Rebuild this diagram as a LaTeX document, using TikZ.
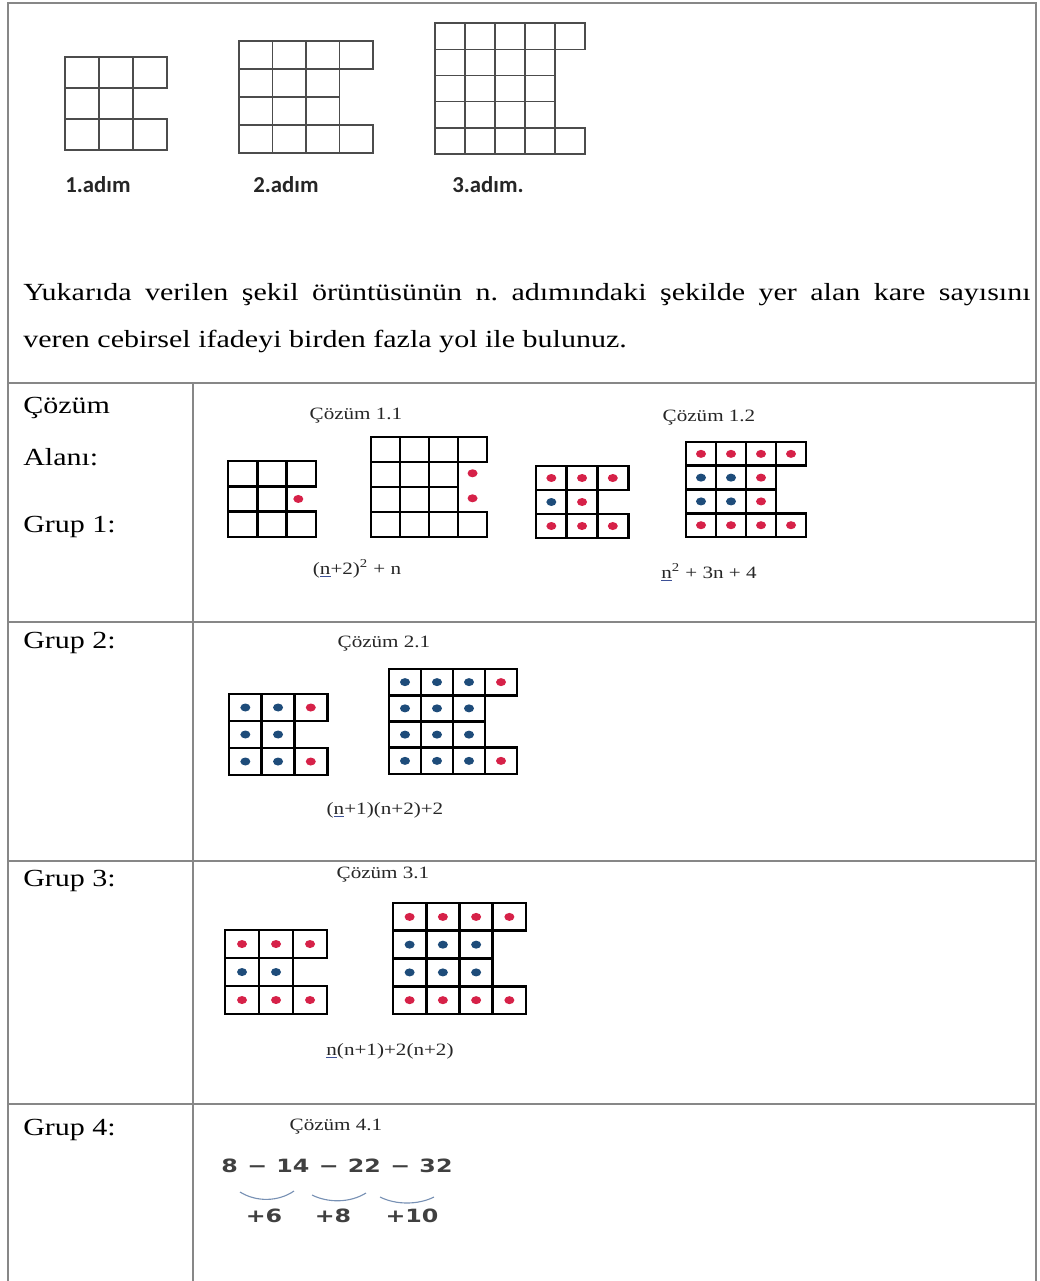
\documentclass[tikz,border=0pt]{standalone}
\usepackage{fontspec}
\setmainfont[FakeStretch=1.22]{Liberation Serif}
\newfontfamily\stepfont{Carlito}
\newfontfamily\numfont[FakeStretch=1.3]{DejaVu Sans}
\definecolor{dotred}{RGB}{214,33,72}
\definecolor{dotblue}{RGB}{30,76,122}
\definecolor{tablegray}{RGB}{135,135,135}
\definecolor{archue}{RGB}{120,145,180}
\definecolor{ulblue}{RGB}{60,80,150}
\newcommand{\ulinen}{\textcolor{ulblue}{\underline{\textcolor{black!85}{n}}}}
\frenchspacing
\begin{document}
\begin{tikzpicture}[x=0.025cm, y=-0.025cm,
    tableline/.style={draw=tablegray, line width=1.4pt},
    stepcell/.style={draw=black!70, line width=1pt},
    solcell/.style={draw=black, line width=2pt},
    reddot/.style={fill=dotred},
    bluedot/.style={fill=dotblue},
    arcline/.style={draw=archue, line width=0.8pt},
    steplabel/.style={anchor=base west, inner sep=0pt, text=black!85, font=\stepfont\bfseries\fontsize{16.2pt}{19pt}\selectfont},
    bodytext/.style={anchor=base west, inner sep=0pt, text=black, font=\fontsize{17.5pt}{20pt}\selectfont},
    smalltext/.style={anchor=base, inner sep=0pt, text=black!85, font=\fontsize{12.3pt}{14pt}\selectfont},
    numtext/.style={anchor=base, inner sep=0pt, text=black!75, font=\numfont\bfseries\fontsize{13pt}{15pt}\selectfont}]
    \useasboundingbox (0,0) rectangle (1039,1281);
    % table
    \draw[tableline] (8,1281) -- (8,3) -- (1036,3) -- (1036,1281);
    \draw[tableline] (8,383) -- (1036,383);
    \draw[tableline] (8,622) -- (1036,622);
    \draw[tableline] (8,861) -- (1036,861);
    \draw[tableline] (8,1104) -- (1036,1104);
    \draw[tableline] (193,383) -- (193,1281);

    % pattern steps
    \begin{scope}[shift={(65,57)}, x=0.85cm, y=-0.775cm]
        \foreach \r/\k in {0/3,1/2,2/3}
            \foreach \c in {1,...,\k}
                \draw[stepcell] (\c-1,\r) rectangle ++(1,1);
    \end{scope}
    \begin{scope}[shift={(239,41)}, x=0.8375cm, y=-0.7cm]
        \foreach \r/\k in {0/4,1/3,2/3,3/4}
            \foreach \c in {1,...,\k}
                \draw[stepcell] (\c-1,\r) rectangle ++(1,1);
    \end{scope}
    \begin{scope}[shift={(435,23)}, x=0.75cm, y=-0.655cm]
        \foreach \r/\k in {0/5,1/4,2/4,3/4,4/5}
            \foreach \c in {1,...,\k}
                \draw[stepcell] (\c-1,\r) rectangle ++(1,1);
    \end{scope}
    \node[steplabel] (adim1) at (65,193) {1.adım};
    \node[steplabel] (adim2) at (253,193) {2.adım};
    \node[steplabel] (adim3) at (452,193) {3.adım.};

    \node[bodytext] (qline1) at (23,300) {\makebox[25.175cm][s]{Yukarıda verilen şekil örüntüsünün n. adımındaki şekilde yer alan kare sayısını}};
    \node[bodytext] (qline2) at (23,347) {veren cebirsel ifadeyi birden fazla yol ile bulunuz.};

    % left column
    \node[bodytext] (cozum) at (23,413) {Çözüm};
    \node[bodytext] (alani) at (23,465) {Alanı:};
    \node[bodytext] (grup1) at (23,532) {Grup 1:};
    \node[bodytext] (grup2) at (23,648) {Grup 2:};
    \node[bodytext] (grup3) at (23,886) {Grup 3:};
    \node[bodytext] (grup4) at (23,1135) {Grup 4:};

    % grup 1
    \node[smalltext] (coz11) at (356,419) {Çözüm 1.1};
    \node[smalltext] (coz12) at (709,421) {Çözüm 1.2};
    \begin{scope}[shift={(228,461)}, x=0.7325cm, y=-0.6325cm]
        \foreach \r/\k in {0/3,1/2,2/3}
            \foreach \c in {1,...,\k}
                \draw[solcell] (\c-1,\r) rectangle ++(1,1);
        \fill[reddot] (2.4,1.5) ellipse (0.125cm and 0.1cm);
    \end{scope}
    \begin{scope}[shift={(371,437)}, x=0.725cm, y=-0.625cm]
        \foreach \r/\k in {0/4,1/3,2/3,3/4}
            \foreach \c in {1,...,\k}
                \draw[solcell] (\c-1,\r) rectangle ++(1,1);
        \foreach \r in {1,2}
            \fill[reddot] (3.5,\r+.45) ellipse (0.125cm and 0.1cm);
    \end{scope}
    \begin{scope}[shift={(536,466)}, x=0.7675cm, y=-0.6cm]
        \foreach \r/\k in {0/3,1/2,2/3}
            \foreach \c in {1,...,\k}
                \draw[solcell] (\c-1,\r) rectangle ++(1,1);
        \foreach \c/\r in {0/0,1/0,2/0,1/1,0/2,1/2,2/2}
            \fill[reddot] (\c+.5,\r+.5) ellipse (0.125cm and 0.1cm);
        \fill[bluedot] (0.5,1.5) ellipse (0.125cm and 0.1cm);
    \end{scope}
    \begin{scope}[shift={(686,442)}, x=0.75cm, y=-0.594cm]
        \foreach \r/\k in {0/4,1/3,2/3,3/4}
            \foreach \c in {1,...,\k}
                \draw[solcell] (\c-1,\r) rectangle ++(1,1);
        \foreach \c/\r in {0/0,1/0,2/0,3/0,2/1,2/2,0/3,1/3,2/3,3/3}
            \fill[reddot] (\c+.5,\r+.5) ellipse (0.125cm and 0.1cm);
        \foreach \c/\r in {0/1,1/1,0/2,1/2}
            \fill[bluedot] (\c+.5,\r+.5) ellipse (0.125cm and 0.1cm);
    \end{scope}
    \node[smalltext] (form11) at (357,574) {(\ulinen+2)\textsuperscript{2} + n};
    \node[smalltext] (form12) at (709,578) {\ulinen\textsuperscript{2} + 3n + 4};

    % grup 2
    \node[smalltext] (coz21) at (384,647) {Çözüm 2.1};
    \begin{scope}[shift={(229,694)}, x=0.8175cm, y=-0.675cm]
        \foreach \r/\k in {0/3,1/2,2/3}
            \foreach \c in {1,...,\k}
                \draw[solcell] (\c-1,\r) rectangle ++(1,1);
        \foreach \c/\r in {0/0,1/0,0/1,1/1,0/2,1/2}
            \fill[bluedot] (\c+.5,\r+.5) ellipse (0.125cm and 0.1cm);
        \foreach \r in {0,2}
            \fill[reddot] (2.5,\r+.5) ellipse (0.125cm and 0.1cm);
    \end{scope}
    \begin{scope}[shift={(389,669)}, x=0.8cm, y=-0.656cm]
        \foreach \r/\k in {0/4,1/3,2/3,3/4}
            \foreach \c in {1,...,\k}
                \draw[solcell] (\c-1,\r) rectangle ++(1,1);
        \foreach \r in {0,...,3}
            \foreach \c in {0,1,2}
                \fill[bluedot] (\c+.5,\r+.5) ellipse (0.125cm and 0.1cm);
        \foreach \r in {0,3}
            \fill[reddot] (3.5,\r+.5) ellipse (0.125cm and 0.1cm);
    \end{scope}
    \node[smalltext] (form21) at (385,814) {(\ulinen+1)(n+2)+2};

    % grup 3
    \node[smalltext] (coz31) at (383,878) {Çözüm 3.1};
    \begin{scope}[shift={(225,930)}, x=0.85cm, y=-0.7cm]
        \foreach \r/\k in {0/3,1/2,2/3}
            \foreach \c in {1,...,\k}
                \draw[solcell] (\c-1,\r) rectangle ++(1,1);
        \foreach \c/\r in {0/0,1/0,2/0,0/2,1/2,2/2}
            \fill[reddot] (\c+.5,\r+.5) ellipse (0.125cm and 0.1cm);
        \foreach \c in {0,1}
            \fill[bluedot] (\c+.5,1.5) ellipse (0.125cm and 0.1cm);
    \end{scope}
    \begin{scope}[shift={(393,903)}, x=0.831cm, y=-0.694cm]
        \foreach \r/\k in {0/4,1/3,2/3,3/4}
            \foreach \c in {1,...,\k}
                \draw[solcell] (\c-1,\r) rectangle ++(1,1);
        \foreach \r in {0,3}
            \foreach \c in {0,...,3}
                \fill[reddot] (\c+.5,\r+.5) ellipse (0.125cm and 0.1cm);
        \foreach \r in {1,2}
            \foreach \c in {0,1,2}
                \fill[bluedot] (\c+.5,\r+.5) ellipse (0.125cm and 0.1cm);
    \end{scope}
    \node[smalltext] (form31) at (390,1055) {\ulinen(n+1)+2(n+2)};

    % grup 4
    \node[smalltext] (coz41) at (336,1130) {Çözüm 4.1};
    \node[numtext] (seq) at (337,1172) {\makebox[5.775cm][s]{8 − 14 − 22 − 32}};
    \draw[arcline] (240,1192) .. controls (256,1202) and (278,1202) .. (294,1191);
    \draw[arcline] (312,1195) .. controls (328,1203) and (350,1203) .. (366,1193);
    \draw[arcline] (380,1197) .. controls (396,1205) and (418,1205) .. (434,1197);
    \node[numtext] (diff6) at (264,1222) {+6};
    \node[numtext] (diff8) at (333,1222) {+8};
    \node[numtext] (diff10) at (412,1222) {+10};
\end{tikzpicture}
\end{document}
